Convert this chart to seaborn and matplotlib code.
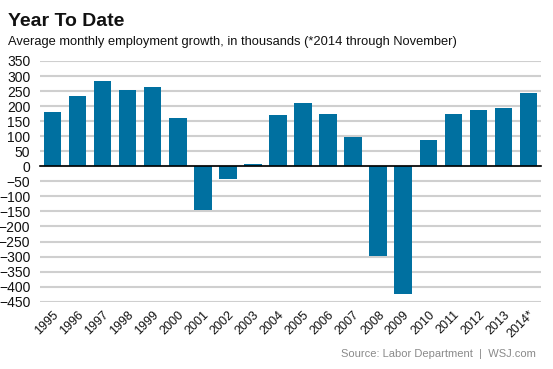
import matplotlib

matplotlib.use("Agg")
import matplotlib.pyplot as plt
import matplotlib.ticker as mticker
import numpy as np
import pandas as pd
import seaborn as sns

YEARS = ["1995", "1996", "1997", "1998", "1999", "2000", "2001", "2002", "2003", "2004",
         "2005", "2006", "2007", "2008", "2009", "2010", "2011", "2012", "2013", "2014*"]
GROWTH = [180, 235, 284, 254, 265, 162, -146, -41, 9, 169,
          209, 174, 96, -297, -423, 89, 174, 187, 194, 242]
Y_TICKS = list(range(-450, 351, 50))

BAR_COLOR = "#0070a0"
GRID_COLOR = "#cfcfcf"
W, H = 553, 369

sns.set_theme(style="white")
plt.rcParams["font.family"] = ["Liberation Sans", "DejaVu Sans"]

df = pd.DataFrame({"year": YEARS, "growth": GROWTH})

fig = plt.figure(figsize=(W / 100, H / 100), dpi=100)
ax = fig.add_axes([40 / W, 1 - 301.7 / H, (541 - 40) / W, (301.7 - 61) / H])

sns.barplot(data=df, x="year", y="growth", color=BAR_COLOR, width=0.7,
            saturation=1, linewidth=0, ax=ax, zorder=3)

ax.set_ylim(-450, 350)
ax.set_xlim(-0.5, len(YEARS) - 0.5)
ax.set_yticks(Y_TICKS)
ax.yaxis.grid(True, color=GRID_COLOR, linewidth=1.5, zorder=0)
ax.xaxis.grid(False)
ax.set_axisbelow(True)
ax.tick_params(axis="y", length=0, pad=7, labelsize=10, labelcolor="#111111")

for side in ["top", "right", "left"]:
    ax.spines[side].set_visible(False)
ax.spines["bottom"].set_position(("data", 0))
ax.spines["bottom"].set_color("black")
ax.spines["bottom"].set_linewidth(1.2)
ax.spines["bottom"].set_zorder(4)

# tick marks between categories on the zero line
ax.xaxis.set_minor_locator(mticker.FixedLocator(np.arange(-0.5, len(YEARS), 1.0)))
ax.tick_params(axis="x", which="minor", length=4, width=1.2, color="black", direction="out")
ax.tick_params(axis="x", which="major", length=0, labelbottom=False)
ax.set_xlabel("")
ax.set_ylabel("")

# category labels sit below the plot area
sec = ax.secondary_xaxis(0)
sec.set_xticks(range(len(YEARS)))
sec.set_xticklabels(YEARS, rotation=45, ha="right", rotation_mode="anchor", fontsize=9,
                    color="#111111")
sec.tick_params(length=0, pad=5)
sec.spines["bottom"].set_visible(False)

fig.text(8 / W, 1 - 26 / H, "Year To Date", fontsize=14, fontweight="bold",
         va="baseline", ha="left", color="#111111")
fig.text(8 / W, 1 - 45 / H,
         "Average monthly employment growth, in thousands (*2014 through November)",
         fontsize=9.3, va="baseline", ha="left", color="#111111")
fig.text(536 / W, 1 - 357 / H, "Source: Labor Department  |  WSJ.com",
         fontsize=8, va="baseline", ha="right", color="#8a8a8a")

fig.savefig("out.png", dpi=100)
